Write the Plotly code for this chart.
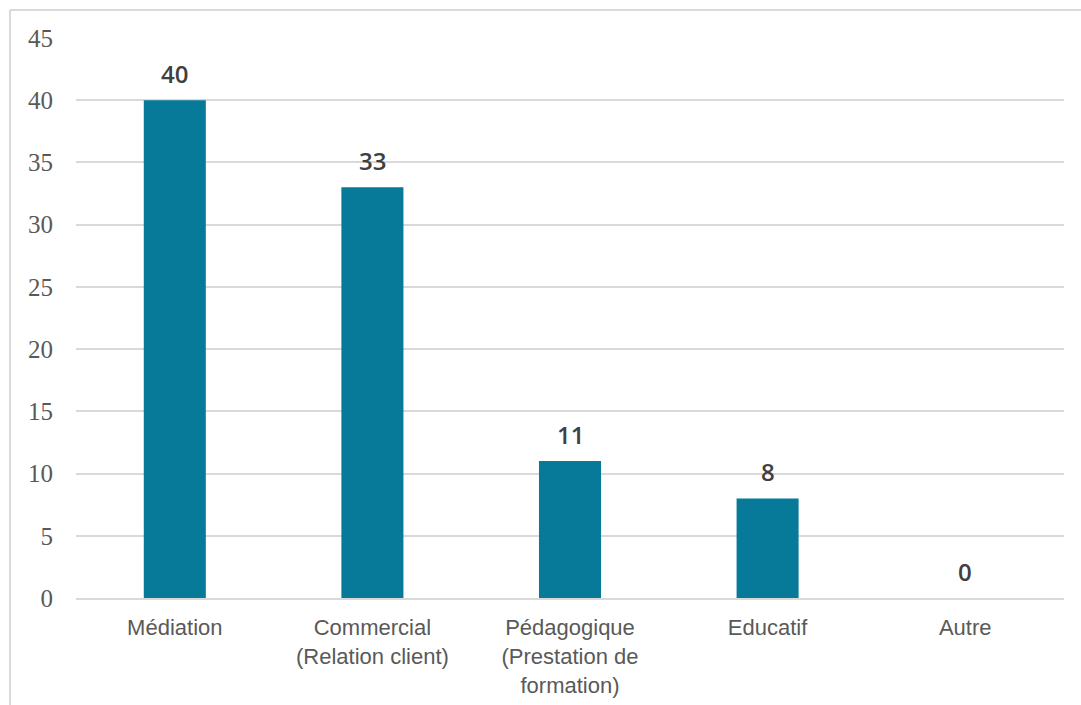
import plotly.graph_objects as go

# Catégories et effectifs
categories = [
    "Médiation",
    "Commercial<br>(Relation client)",
    "Pédagogique<br>(Prestation de<br>formation)",
    "Educatif",
    "Autre",
]
valeurs = [40, 33, 11, 8, 0]
ticks_y = [0, 5, 10, 15, 20, 25, 30, 35, 40, 45]

BAR_COLOR = "#077A99"
GRID_COLOR = "#D9D9D9"

fig = go.Figure(
    go.Bar(
        x=categories,
        y=valeurs,
        marker=dict(color=BAR_COLOR, line=dict(width=0)),
        hoverinfo="skip",
    )
)

# Étiquettes de valeur au-dessus des barres
for cat, val in zip(categories, valeurs):
    fig.add_annotation(
        x=cat, y=val, xref="x", yref="y",
        text=str(val), showarrow=False,
        yanchor="bottom", yshift=8,
        font=dict(family="Open Sans, Liberation Sans, sans-serif", size=24,
                  color="#404040", weight=600),
    )

# Cadre du graphique (bords haut et gauche)
W, H = 1081, 705
L, R, T, B = 76, 17, 38, 107
pw, ph = W - L - R, H - T - B

def px_x(px):
    return (px - L) / pw

def px_y(py):
    return (H - B - py) / ph

frame = dict(color=GRID_COLOR, width=2)
fig.add_shape(type="line", xref="paper", yref="paper",
              x0=px_x(10), x1=px_x(W + 5), y0=px_y(10), y1=px_y(10), line=frame)
fig.add_shape(type="line", xref="paper", yref="paper",
              x0=px_x(10), x1=px_x(10), y0=px_y(10), y1=px_y(H + 5), line=frame)

fig.update_layout(
    width=W, height=H,
    margin=dict(l=L, r=R, t=T, b=B),
    paper_bgcolor="white",
    plot_bgcolor="white",
    bargap=0.686,
    showlegend=False,
    xaxis=dict(
        automargin=False,
        showgrid=False,
        showline=True, linecolor=GRID_COLOR, linewidth=2,
        ticks="", ticklabelstandoff=9,
        tickfont=dict(family="Liberation Sans, Arial, sans-serif", size=22, color="#595959"),
    ),
    yaxis=dict(
        automargin=False,
        range=[0, 45],
        tickvals=ticks_y,
        showgrid=True, gridcolor=GRID_COLOR, gridwidth=2,
        zeroline=False, showline=False,
        ticks="", ticklabelstandoff=22,
        tickfont=dict(family="Liberation Serif, Times New Roman, serif", size=25, color="#595959"),
    ),
)

fig.write_html("out.html")
